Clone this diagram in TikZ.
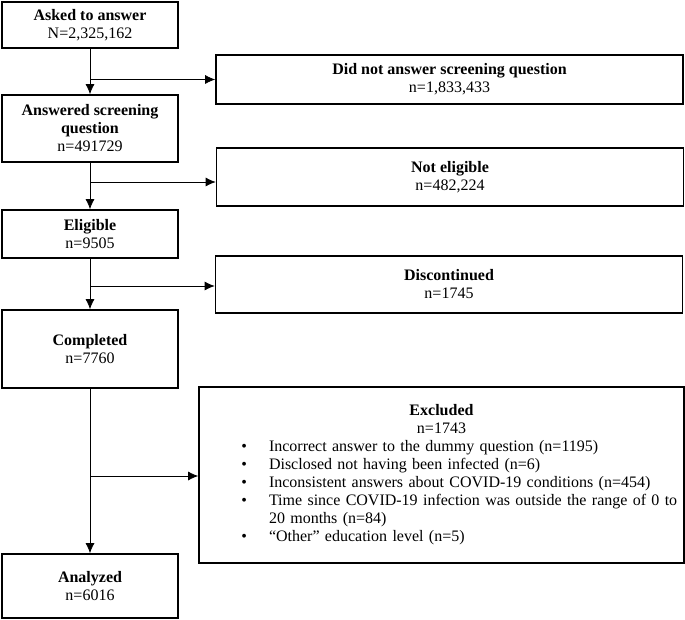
\documentclass[tikz,border=0pt]{standalone}
\usepackage{fontspec}
\setmainfont{Liberation Serif}
\usepackage{enumitem}
\usetikzlibrary{arrows.meta}

\begin{document}
\begin{tikzpicture}[x=1pt,y=-1pt,
  flowbox/.style={draw,line width=1.6pt,rectangle,inner sep=0pt,align=center,font=\fontsize{16}{18}\selectfont},
  leftbox/.style={flowbox,minimum width=176pt},
  rightbox/.style={flowbox,minimum width=467pt},
  flow/.style={-{Latex[length=10pt,width=9pt]},line width=0.8pt}]
\useasboundingbox (0,0) rectangle (685,620);
\node[leftbox,minimum height=46pt] (asked) at (90,25) {\textbf{Asked to answer}\\N=2,325,162};
\node[leftbox,minimum height=67pt] (answered) at (90,128.5) {\textbf{Answered screening}\\\textbf{question}\\n=491729};
\node[leftbox,minimum height=48pt] (eligible) at (90,234) {\textbf{Eligible}\\n=9505};
\node[leftbox,minimum height=78pt] (completed) at (90,349) {\textbf{Completed}\\n=7760};
\node[leftbox,minimum height=64pt] (analyzed) at (90,586) {\textbf{Analyzed}\\n=6016};
\node[rightbox,minimum height=49pt] (noanswer) at (449.5,79.5) {\textbf{Did not answer screening question}\\n=1,833,433};
\node[rightbox,minimum height=58pt] (noteligible) at (450,177) {\textbf{Not eligible}\\n=482,224};
\node[rightbox,minimum height=57pt] (discont) at (449,284.5) {\textbf{Discontinued}\\n=1745};
\node[flowbox,minimum width=485pt,minimum height=176pt,text width=485pt,align=left] (excluded) at (441.5,475) {%
  {\centering\textbf{Excluded}\\n=1743\par}
  \begin{itemize}[label=\textbullet,leftmargin=70pt,labelsep=22pt,topsep=0pt,partopsep=0pt,itemsep=0pt,parsep=0pt]
  \item Incorrect answer to the dummy question (n=1195)
  \item Disclosed not having been infected (n=6)
  \item Inconsistent answers about COVID-19 conditions (n=454)
  \item Time since COVID-19 infection was outside the range of 0 to\\20 months (n=84)
  \item “Other” education level (n=5)
  \end{itemize}};
\coordinate (b1) at (asked.south |- noanswer.west);
\coordinate (b2) at (90,182);
\coordinate (b3) at (90,286);
\coordinate (b4) at (90,476);
\draw[flow] (asked) -- (answered);
\draw[flow] (answered) -- (eligible);
\draw[flow] (eligible) -- (completed);
\draw[flow] (completed) -- (analyzed);
\draw[flow] (b1) -- (noanswer.west);
\draw[flow] (b2) -- (b2 -| noteligible.west);
\draw[flow] (b3) -- (b3 -| discont.west);
\draw[flow] (b4) -- (b4 -| excluded.west);
\end{tikzpicture}
\end{document}
